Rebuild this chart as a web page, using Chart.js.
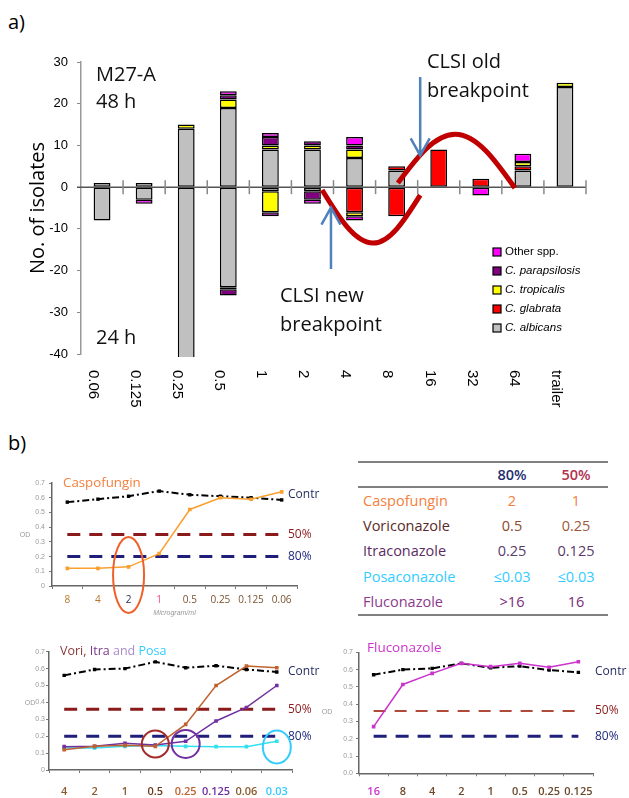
<!DOCTYPE html>
<html>
<head>
<meta charset="utf-8">
<script src="https://cdn.jsdelivr.net/npm/chart.js@4.4.0/dist/chart.umd.min.js"></script>
<style>
body { margin:0; background:#fff; width:629px; height:798px; position:relative; overflow:hidden; font-family:'Open Sans', sans-serif; }
canvas { position:absolute; }
.lbl { position:absolute; font-size:20px; color:#000; }
#tbl { position:absolute; left:358px; top:461px; width:250px; border-collapse:collapse; font-size:14.5px; table-layout:fixed; }
#tbl th, #tbl td { padding:0; text-align:center; font-weight:normal; }
#tbl thead tr { border-top:2px solid #808080; border-bottom:2px solid #808080; height:25px; }
#tbl tbody tr { height:25.5px; }
#tbl tbody tr:last-child { border-bottom:2px solid #808080; }
#tbl td.name { text-align:left; padding-left:5px; }
</style>
</head>
<body>
<div class="lbl" style="left:8px;top:8px">a)</div>
<div class="lbl" style="left:8px;top:429px">b)</div>

<canvas id="chartA" width="629" height="430" style="left:0;top:0"></canvas>
<canvas id="chartB1" width="330" height="160" style="left:0;top:460px"></canvas>
<canvas id="chartB2" width="330" height="158" style="left:0;top:640px"></canvas>
<canvas id="chartB3" width="319" height="158" style="left:310px;top:640px"></canvas>

<table id="tbl">
  <colgroup><col style="width:122px"><col style="width:64px"><col style="width:64px"></colgroup>
  <thead>
    <tr><th></th><th style="color:#1f2f6f;font-weight:600">80%</th><th style="color:#b03050;font-weight:600">50%</th></tr>
  </thead>
  <tbody>
    <tr style="color:#f5803e"><td class="name">Caspofungin</td><td>2</td><td>1</td></tr>
    <tr style="color:#5a2a2a"><td class="name">Voriconazole</td><td style="color:#8a4a2a">0.5</td><td style="color:#9a5a3a">0.25</td></tr>
    <tr style="color:#5a2c5f"><td class="name">Itraconazole</td><td style="color:#5a3a6a">0.25</td><td style="color:#5a3a6a">0.125</td></tr>
    <tr style="color:#33ccff"><td class="name">Posaconazole</td><td>≤0.03</td><td>≤0.03</td></tr>
    <tr style="color:#8e3a8e"><td class="name">Fluconazole</td><td style="color:#7a2a7a">&gt;16</td><td style="color:#7a2a7a">16</td></tr>
  </tbody>
</table>

<script>
Chart.defaults.font.family = 'Liberation Sans';
Chart.defaults.animation = false;

// ---- panel a) data: number of isolates per MIC ----
var micLabels = ['0.06', '0.125', '0.25', '0.5', '1', '2', '4', '8', '16', '32', '64', 'trailer'];

// 48 h reading (drawn upwards)
var albicans48     = [1, 1, 14, 19, 9, 9, 7, 4, null, null, 4, 24];
var glabrata48     = [null, null, null, null, null, null, null, 1, 9, 2, 1, null];
var tropicalis48   = [null, null, 1, 2, 1, 1, 2, null, null, null, 1, 1];
var parapsilosis48 = [null, null, null, 1, 2, 1, 1, null, null, null, null, null];
var other48        = [null, null, null, 1, 1, null, 2, null, null, null, 2, null];

// 24 h reading (drawn downwards)
var albicans24     = [-8, -3, -45, -24, -1, -1, null, null, null, null, null, null];
var glabrata24     = [null, null, null, null, null, null, -6, -7, null, null, null, null];
var tropicalis24   = [null, null, null, -0.5, -5, null, -1, null, null, null, null, null];
var parapsilosis24 = [null, null, null, -1.5, -1, -2, null, null, null, null, null, null];
var other24        = [null, -1, null, null, null, -1, -1, null, null, -2, null, null];

var speciesNames  = ['C. albicans', 'C. glabrata', 'C. tropicalis', 'C. parapsilosis', 'Other spp.'];
var speciesColors = ['#c0c0c0', '#ff0000', '#ffff00', '#800080', '#ff00ff'];

// ---- panel b) data: OD readings ----
var caspoLabels  = ['8', '4', '2', '1', '0.5', '0.25', '0.125', '0.06'];
var caspoControl = [0.57, 0.59, 0.61, 0.645, 0.62, 0.61, 0.60, 0.585];
var caspoOD      = [0.12, 0.12, 0.13, 0.22, 0.52, 0.60, 0.59, 0.64];
var caspoCut50 = 0.35;
var caspoCut80 = 0.20;

var azoleLabels  = ['4', '2', '1', '0.5', '0.25', '0.125', '0.06', '0.03'];
var azoleControl = [0.56, 0.595, 0.60, 0.64, 0.605, 0.617, 0.595, 0.58];
var voriOD       = [0.12, 0.14, 0.146, 0.14, 0.27, 0.50, 0.615, 0.605];
var itraOD       = [0.138, 0.14, 0.158, 0.148, 0.17, 0.29, 0.37, 0.50];
var posaOD       = [0.13, 0.13, 0.14, 0.145, 0.14, 0.138, 0.138, 0.17];
var azoleCut50 = 0.36;
var azoleCut80 = 0.20;

var flucoLabels  = ['16', '8', '4', '2', '1', '0.5', '0.25', '0.125'];
var flucoControl = [0.57, 0.60, 0.607, 0.636, 0.61, 0.62, 0.597, 0.584];
var flucoOD      = [0.27, 0.514, 0.578, 0.636, 0.617, 0.636, 0.613, 0.645];
var flucoCut50 = 0.36;
var flucoCut80 = 0.214;


// ================= panel a) =================
var counts48 = [albicans48, glabrata48, tropicalis48, parapsilosis48, other48];
var counts24 = [albicans24, glabrata24, tropicalis24, parapsilosis24, other24];

function barSet(name, data, color) {
  return {
    label: name, data: data, backgroundColor: color,
    borderColor: '#000', borderWidth: 1.5, borderSkipped: false,
    barPercentage: 0.4, categoryPercentage: 1, clip: 3
  };
}

var datasetsA = [];
speciesNames.forEach(function(name, i) {
  datasetsA.push(barSet(name + ' 48 h', counts48[i], speciesColors[i]));
  datasetsA.push(barSet(name + ' 24 h', counts24[i], speciesColors[i]));
});

// half-sine looking arc through start, extreme and end point
function sineArc(ctx, a, k, b) {
  ctx.moveTo(a.x, a.y);
  ctx.bezierCurveTo(a.x + 0.326 * (k.x - a.x), a.y + 0.512 * (k.y - a.y),
                    a.x + 0.638 * (k.x - a.x), k.y, k.x, k.y);
  ctx.bezierCurveTo(k.x + 0.362 * (b.x - k.x), k.y,
                    k.x + 0.674 * (b.x - k.x), b.y + 0.512 * (k.y - b.y), b.x, b.y);
}

function arrow(ctx, x, y1, y2) {
  var dir = y2 > y1 ? 1 : -1;
  ctx.beginPath();
  ctx.moveTo(x, y1); ctx.lineTo(x, y2);
  ctx.moveTo(x - 9.5, y2 - dir * 17); ctx.lineTo(x, y2); ctx.lineTo(x + 9.5, y2 - dir * 17);
  ctx.stroke();
}

var panelAExtras = {
  id: 'panelAExtras',
  afterDatasetsDraw: function(chart) {
    var ctx = chart.ctx, xs = chart.scales.x, ys = chart.scales.y, area = chart.chartArea;
    var P = function(i, v) { return {x: xs.getPixelForValue(i), y: ys.getPixelForValue(v)}; };
    var catW = (area.right - area.left) / micLabels.length;
    var y0 = ys.getPixelForValue(0);
    ctx.save();

    // zero line with crossing ticks
    ctx.strokeStyle = '#555'; ctx.lineWidth = 1.5;
    ctx.beginPath(); ctx.moveTo(area.left - 4, y0); ctx.lineTo(area.right, y0); ctx.stroke();
    ctx.strokeStyle = '#888';
    for (var k = 1; k <= micLabels.length; k++) {
      var tx = area.left + k * catW;
      ctx.beginPath(); ctx.moveTo(tx, y0 - 7); ctx.lineTo(tx, y0 + 7); ctx.stroke();
    }

    // MIC labels, rotated to read downwards
    ctx.fillStyle = '#000'; ctx.font = '15px "Liberation Sans"';
    ctx.textAlign = 'left'; ctx.textBaseline = 'middle';
    micLabels.forEach(function(lab, i) {
      ctx.save();
      ctx.translate(xs.getPixelForValue(i) - 9, area.bottom + 16);
      ctx.rotate(Math.PI / 2);
      ctx.fillText(lab, 0, 0);
      ctx.restore();
    });

    // red wave
    ctx.strokeStyle = '#c00000'; ctx.lineWidth = 5; ctx.lineCap = 'butt';
    ctx.beginPath(); sineArc(ctx, P(5.23, -0.7), P(6.44, -13.4), P(7.56, -1.9)); ctx.stroke();
    ctx.beginPath(); sineArc(ctx, P(7.03, 1.0), P(8.39, 12.7), P(9.81, -0.2)); ctx.stroke();

    // breakpoint arrows
    ctx.strokeStyle = '#4f81bd'; ctx.lineWidth = 2.5;
    arrow(ctx, xs.getPixelForValue(7.56), ys.getPixelForValue(26.4), ys.getPixelForValue(7.6));
    arrow(ctx, xs.getPixelForValue(5.44), ys.getPixelForValue(-19.6), ys.getPixelForValue(-4.9));

    // notes
    ctx.fillStyle = '#111'; ctx.font = '20px "Open Sans"'; ctx.textBaseline = 'alphabetic';
    [['M27-A', 96, 81], ['48 h', 96, 108], ['24 h', 96, 344],
     ['CLSI old', 427, 68], ['breakpoint', 427, 97],
     ['CLSI new', 280, 302], ['breakpoint', 280, 331]].forEach(function(n) {
      ctx.fillText(n[0], n[1], n[2]);
    });

    // legend (reverse order, like the original)
    ctx.textBaseline = 'middle';
    for (var j = speciesNames.length - 1, row = 0; j >= 0; j--, row++) {
      var ly = 252 + row * 19;
      ctx.fillStyle = speciesColors[j];
      ctx.fillRect(493, ly - 4, 8, 8);
      ctx.strokeStyle = '#000'; ctx.lineWidth = 1.2;
      ctx.strokeRect(493, ly - 4, 8, 8);
      ctx.fillStyle = '#000';
      ctx.font = (j === 4 ? '' : 'italic ') + '11.5px "Liberation Sans"';
      ctx.fillText(speciesNames[j], 505, ly);
    }
    ctx.restore();
  }
};

new Chart(document.getElementById('chartA'), {
  type: 'bar',
  data: { labels: micLabels, datasets: datasetsA },
  options: {
    responsive: false,
    layout: { padding: { top: 62, right: 43, bottom: 76, left: 0 } },
    plugins: { legend: { display: false }, tooltip: { enabled: false } },
    scales: {
      x: { display: false, stacked: true, offset: true },
      y: {
        stacked: true, min: -40, max: 30,
        ticks: { stepSize: 10, padding: 9, color: '#000', font: { size: 13 } },
        grid: { drawOnChartArea: false, tickLength: 4, color: '#888' },
        border: { color: '#999', width: 1.5 },
        title: { display: true, text: 'No. of isolates', color: '#000',
                 font: { family: 'Open Sans', size: 20 }, padding: { top: 26, bottom: 0 } },
        afterFit: function(s) { s.width = 81; }
      }
    }
  },
  plugins: [panelAExtras]
});


// ================= panel b) =================
function smallExtras(look) {
  return {
    id: 'smallExtras',
    afterDatasetsDraw: function(chart) {
      var ctx = chart.ctx, xs = chart.scales.x, ys = chart.scales.y;
      ctx.save();
      ctx.textAlign = 'left'; ctx.textBaseline = 'middle';
      // title, possibly in several colours
      ctx.font = look.titleSize + 'px "Open Sans"';
      var tx = look.titleX;
      look.title.forEach(function(p) {
        ctx.fillStyle = p[1]; ctx.fillText(p[0], tx, look.titleY);
        tx += ctx.measureText(p[0]).width;
      });
      // OD
      ctx.font = '7px "Liberation Sans"'; ctx.fillStyle = '#999'; ctx.textAlign = 'center';
      ctx.fillText('OD', look.odX, look.odY);
      // right hand labels
      ctx.textAlign = 'left'; ctx.font = '12px "Open Sans"';
      look.side.forEach(function(s) {
        ctx.fillStyle = s[2]; ctx.fillText(s[0], look.sideX, ys.getPixelForValue(s[1]));
      });
      // rings
      ctx.lineWidth = 2;
      look.rings.forEach(function(r) {
        ctx.strokeStyle = r[4];
        ctx.beginPath();
        ctx.ellipse(xs.getPixelForValue(r[0]), ys.getPixelForValue(r[1]), r[2], r[3], 0, 0, Math.PI * 2);
        ctx.stroke();
      });
      ctx.restore();
    }
  };
}

function smallChart(canvasId, labels, lines, cut50, cut80, look) {
  var sets = [];
  lines.forEach(function(s) {
    sets.push({
      data: s.data, borderColor: s.color, backgroundColor: s.color,
      borderWidth: s.width, borderDash: s.dash || [], pointRadius: s.point,
      pointStyle: 'rect', tension: 0
    });
  });
  var first = labels[0], last = labels[labels.length - 1];
  sets.push({ data: [{x: first, y: cut50}, {x: last, y: cut50}], borderColor: look.c50,
              borderWidth: look.w50, borderDash: look.dash50, pointRadius: 0 });
  sets.push({ data: [{x: first, y: cut80}, {x: last, y: cut80}], borderColor: '#1f1f7a',
              borderWidth: 3, borderDash: [13, 9], pointRadius: 0 });

  return new Chart(document.getElementById(canvasId), {
    type: 'line',
    data: { labels: labels, datasets: sets },
    options: {
      responsive: false,
      layout: { padding: look.pad },
      plugins: { legend: { display: false }, tooltip: { enabled: false } },
      scales: {
        x: {
          offset: true,
          grid: { offset: true, drawOnChartArea: false, tickLength: 3, color: '#777' },
          border: { color: '#666', width: 1.5 },
          ticks: { padding: look.xPad, font: look.xFont, autoSkip: false, minRotation: 0, maxRotation: 0,
                   color: function(c) { return look.xColors[c.index]; } },
          title: look.xTitle,
          afterFit: function(s) { s.height = look.xHeight; }
        },
        y: {
          min: 0, max: 0.7,
          grid: { drawOnChartArea: false, tickLength: 3, color: '#777' },
          border: { color: '#666', width: 1.5 },
          ticks: { stepSize: 0.1, padding: look.yPad, color: '#999', font: { size: 7 },
                   callback: function(v) { return (v === 0 && !look.zeroDecimal) ? '0' : v.toFixed(1); } },
          afterFit: function(s) { s.width = look.yWidth; }
        }
      }
    },
    plugins: [smallExtras(look)]
  });
}

var controlStyle = { color: '#000', width: 2, dash: [7, 3, 2, 3], point: 1 };

smallChart('chartB1', caspoLabels,
  [ { data: caspoOD, color: '#f9a030', width: 1.5, point: 1.5 },
    { data: caspoControl, color: controlStyle.color, width: controlStyle.width, dash: controlStyle.dash, point: controlStyle.point } ],
  caspoCut50, caspoCut80,
  { pad: { top: 23, right: 33, left: 0, bottom: 0 }, yWidth: 52, xHeight: 34, xPad: 5, yPad: 4,
    xFont: { size: 10, family: 'Open Sans' },
    xColors: ['#b8762a', '#b8762a', '#2b2b5b', '#ff4477', '#7a5230', '#7a5230', '#7a5230', '#7a5230'],
    xTitle: { display: true, text: 'Microgram/ml', color: '#999', font: { size: 7, style: 'italic' }, padding: { top: 0, bottom: 3 } },
    c50: '#8b1a1a', w50: 3, dash50: [13, 9],
    title: [['Caspofungin', '#f5803e']], titleX: 63, titleY: 23, titleSize: 13.3,
    odX: 25, odY: 75,
    sideX: 288, side: [['Contr', 0.62, '#1f2a5c'], ['50%', caspoCut50, '#8b1a1a'], ['80%', caspoCut80, '#1f2a7a']],
    rings: [[2, 0.075, 15.5, 38, '#f0602a']] });

smallChart('chartB2', azoleLabels,
  [ { data: voriOD, color: '#c0622f', width: 1.5, point: 1.5 },
    { data: itraOD, color: '#7030a0', width: 1.5, point: 1.5 },
    { data: posaOD, color: '#33e0f0', width: 1.5, point: 1.5 },
    { data: azoleControl, color: controlStyle.color, width: controlStyle.width, dash: controlStyle.dash, point: controlStyle.point } ],
  azoleCut50, azoleCut80,
  { pad: { top: 11.7, right: 38, left: 0, bottom: 0 }, yWidth: 49, xHeight: 28, xPad: 12.4, yPad: 1,
    xFont: { size: 11, family: 'Open Sans', weight: 600 },
    xColors: ['#8b5a2b', '#8b5a2b', '#8b5a2b', '#6b3a1a', '#c0622f', '#7030a0', '#8b5a2b', '#33ccff'],
    xTitle: { display: false },
    c50: '#8b1a1a', w50: 3, dash50: [13, 9],
    title: [['Vori, ', '#8b3a3a'], ['Itra ', '#7a3a8a'], ['and ', '#a88bc8'], ['Posa', '#33ccff']],
    titleX: 60, titleY: 11, titleSize: 12.5,
    odX: 30, odY: 63,
    sideX: 288, side: [['Contr', 0.585, '#1f2a5c'], ['50%', azoleCut50, '#8b1a1a'], ['80%', azoleCut80, '#1f2a7a']],
    rings: [[3, 0.154, 13.5, 13.5, '#a52a2a'], [4, 0.154, 14, 14, '#7030a0'], [7, 0.136, 14, 16.5, '#33ccff']] });

smallChart('chartB3', flucoLabels,
  [ { data: flucoOD, color: '#cc33cc', width: 1.5, point: 1.5 },
    { data: flucoControl, color: controlStyle.color, width: controlStyle.width, dash: controlStyle.dash, point: controlStyle.point } ],
  flucoCut50, flucoCut80,
  { pad: { top: 12.3, right: 36, left: 0, bottom: 0 }, yWidth: 49, xHeight: 24.7, xPad: 9.1, yPad: 3,
    xFont: { size: 11, family: 'Open Sans', weight: 600 }, zeroDecimal: true,
    xColors: ['#cc33cc', '#6b4a2b', '#6b4a2b', '#6b4a2b', '#6b4a2b', '#6b4a2b', '#6b4a2b', '#6b4a2b'],
    xTitle: { display: false },
    c50: '#b04a3a', w50: 2, dash50: [12, 9],
    title: [['Fluconazole', '#cc33cc']], titleX: 57, titleY: 8, titleSize: 13.5,
    odX: 17, odY: 72,
    sideX: 285, side: [['Contr', 0.59, '#1f2a5c'], ['50%', flucoCut50, '#8b1a1a'], ['80%', flucoCut80, '#1f2a7a']],
    rings: [] });
</script>
</body>
</html>
